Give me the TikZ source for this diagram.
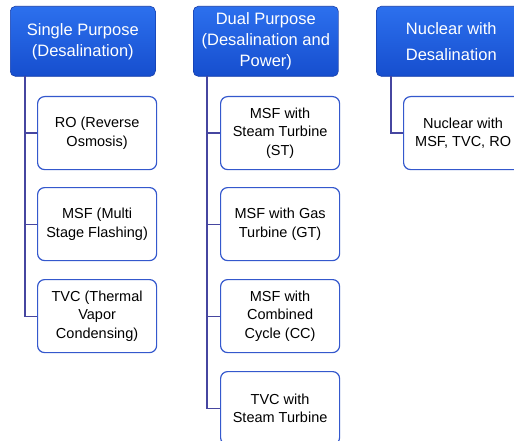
\documentclass[tikz,border=0pt]{standalone}
\usepackage{fontspec}
\setmainfont{Liberation Sans}
\definecolor{headtop}{RGB}{44,112,238}
\definecolor{headbot}{RGB}{22,78,206}
\definecolor{headedge}{RGB}{20,60,170}
\definecolor{childedge}{RGB}{52,88,205}
\definecolor{connc}{RGB}{70,70,160}
\begin{document}
\begin{tikzpicture}[x=1pt,y=-1pt,
  head/.style={draw=headedge, line width=0.6pt, top color=headtop, bottom color=headbot,
    rounded corners=5pt, text=white, font=\fontsize{16.5}{21}\selectfont,
    align=center, minimum width=145pt, minimum height=70pt, inner sep=0pt, anchor=north west},
  child/.style={draw=childedge, line width=1.2pt, fill=white, rounded corners=7pt,
    font=\fontsize{14.5}{18.5}\selectfont, align=center,
    minimum width=119pt, minimum height=73pt, inner sep=0pt, anchor=north west},
  conn/.style={draw=connc, line width=1.2pt}]
\useasboundingbox (0,0) rectangle (514,441);
\clip (0,0) rectangle (514,441);
\fill[white] (0,0) rectangle (514,441);
% headers
\node[head] (h1) at (10,6) {Single Purpose\\(Desalination)};
\node[head] (h2) at (193,6) {Dual Purpose\\(Desalination and\\Power)};
\node[head, minimum width=150pt, font=\fontsize{16.5}{26}\selectfont] (h3) at (376,6) {Nuclear with\\Desalination};
% connector origins
\coordinate (v1) at (25,76);
\coordinate (v2) at (207,76);
\coordinate (v3) at (391,76);
% column 1
\node[child] (c11) at (37,96) {RO (Reverse\\Osmosis)};
\node[child] (c12) at (37,187) {MSF (Multi\\Stage Flashing)};
\node[child] (c13) at (37,279) {TVC (Thermal\\Vapor\\Condensing)};
% column 2
\node[child] (c21) at (220,96) {MSF with\\Steam Turbine\\(ST)};
\node[child] (c22) at (220,187) {MSF with Gas\\Turbine (GT)};
\node[child] (c23) at (220,279) {MSF with\\Combined\\Cycle (CC)};
\node[child] (c24) at (220,371) {TVC with\\Steam Turbine};
% column 3
\node[child] (c31) at (403,96) {Nuclear with\\MSF, TVC, RO};
% connectors
\draw[conn] (v1) |- (c11.west);
\draw[conn] (v1) |- (c12.west);
\draw[conn] (v1) |- (c13.west);
\draw[conn] (v2) |- (c21.west);
\draw[conn] (v2) |- (c22.west);
\draw[conn] (v2) |- (c23.west);
\draw[conn] (v2) |- (c24.west);
\draw[conn] (v3) |- (c31.west);
\end{tikzpicture}
\end{document}
